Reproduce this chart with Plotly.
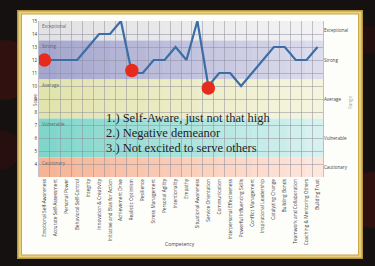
import plotly.graph_objects as go

categories = [
    "Emotional Self-Awareness", "Accurate Self-Assessment", "Personal Power",
    "Behavioral Self-Control", "Integrity", "Innovation & Creativity",
    "Initiative and Bias for Action", "Achievement Drive", "Realistic Optimism",
    "Resilience", "Stress Management", "Personal Agility", "Intentionality",
    "Empathy", "Situational Awareness", "Service Orientation", "Communication",
    "Interpersonal Effectiveness", "Powerful Influencing Skills",
    "Conflict Management", "Inspirational Leadership", "Catalyzing Change",
    "Building Bonds", "Teamwork and Collaboration", "Coaching & Mentoring Others",
    "Building Trust",
]
scores = [12, 12, 12, 12, 13, 14, 14, 15, 11, 11, 12, 12, 13, 12, 15, 10,
          11, 11, 10, 11, 12, 13, 13, 12, 12, 13]

highlight_idx = [0, 8, 15]
highlight_scores = [12, 11.2, 9.85]

band_names = ["Exceptional", "Strong", "Average", "Vulnerable", "Cautionary"]
band_low = [13.5, 10.5, 7.5, 4.5, 3]
band_high = [15, 13.5, 10.5, 7.5, 4.5]
band_mid = [14.25, 12, 9, 6, 3.75]
band_left_rgb = [(226, 226, 228), (164, 166, 206), (226, 228, 174), (128, 214, 202), (246, 180, 150)]
band_right_rgb = [(242, 242, 244), (220, 220, 236), (245, 245, 222), (214, 241, 239), (253, 230, 220)]

notes = ["1.) Self-Aware, just not that high", "2.) Negative demeanor",
         "3.) Not excited to serve others"]

W, H = 375, 266
ML, MR, MT, MB = 39, 52, 21, 89
PW, PH = W - ML - MR, H - MT - MB


def px(x):
    return (x - ML) / PW


def py(y):
    return 1 - (y - MT) / PH


fig = go.Figure()

fig.add_trace(go.Scatter(
    x=categories, y=scores, mode="lines",
    line=dict(color="#3b6ea6", width=2.2), hoverinfo="skip", showlegend=False))
fig.add_trace(go.Scatter(
    x=[categories[i] for i in highlight_idx], y=highlight_scores, mode="markers",
    marker=dict(color="#e62a1d", size=13.5, line=dict(width=0)), showlegend=False))
fig.add_trace(go.Scatter(
    x=[categories[0]], y=[band_mid[0]], yaxis="y2", mode="markers",
    marker=dict(opacity=0), showlegend=False, hoverinfo="skip"))

shapes = []
# background marble hints
for (cx, cy, r, col) in [(5, 70, 30, "rgba(100,16,12,0.35)"), (0, 150, 20, "rgba(80,12,10,0.3)"),
                         (372, 200, 28, "rgba(100,16,12,0.35)"), (368, 40, 14, "rgba(70,12,10,0.3)")]:
    shapes.append(dict(type="circle", xref="paper", yref="paper", layer="below",
                       x0=px(cx - r), x1=px(cx + r), y0=py(cy + r), y1=py(cy - r),
                       fillcolor=col, line=dict(width=0)))
# gold frame
shapes.append(dict(type="rect", xref="paper", yref="paper", layer="below",
                   x0=px(17), x1=px(363), y0=py(259), y1=py(10),
                   fillcolor="#b8953c", line=dict(width=0)))
shapes.append(dict(type="rect", xref="paper", yref="paper", layer="below",
                   x0=px(18.5), x1=px(361.5), y0=py(257.5), y1=py(11.5),
                   fillcolor="#e6d17f", line=dict(width=0)))
shapes.append(dict(type="rect", xref="paper", yref="paper", layer="below",
                   x0=px(21), x1=px(359), y0=py(255.5), y1=py(13.5),
                   fillcolor="#c9a74b", line=dict(width=0)))
shapes.append(dict(type="rect", xref="paper", yref="paper", layer="below",
                   x0=px(22), x1=px(358), y0=py(254.5), y1=py(14.5),
                   fillcolor="#fdfdf9", line=dict(width=0)))

# band gradients
N = 16
for lo, hi, cl, cr in zip(band_low, band_high, band_left_rgb, band_right_rgb):
    for k in range(N):
        t = k / (N - 1)
        c = tuple(round(a + (b - a) * t) for a, b in zip(cl, cr))
        shapes.append(dict(type="rect", xref="x domain", yref="y", layer="below",
                           x0=k / N, x1=min(1, (k + 1) / N + 0.002), y0=lo, y1=hi,
                           fillcolor="rgb(%d,%d,%d)" % c, line=dict(width=0)))

annotations = []
for name, hi in zip(band_names, band_high):
    annotations.append(dict(xref="x domain", yref="y", x=0.005, y=hi, text=name,
                            showarrow=False, xanchor="left", yanchor="top",
                            font=dict(size=4.5, color="#666", family="Open Sans")))
for i, note in enumerate(notes):
    annotations.append(dict(xref="paper", yref="paper", x=px(104), y=py(118 + 15 * i),
                            text=note, showarrow=False, xanchor="left", yanchor="middle",
                            font=dict(size=12.5, color="#1e1e2a", family="Liberation Serif")))
annotations.append(dict(xref="paper", yref="paper", x=px(30), y=py(100), text="Score",
                        textangle=-90, showarrow=False,
                        font=dict(size=4.5, color="#444", family="Open Sans")))
annotations.append(dict(xref="paper", yref="paper", x=px(180), y=py(249), text="Competency",
                        showarrow=False, font=dict(size=5, color="#444", family="Open Sans")))
annotations.append(dict(xref="paper", yref="paper", x=px(355), y=py(103), text="Range",
                        textangle=-90, showarrow=False,
                        font=dict(size=4.5, color="#aaa", family="Open Sans")))

fig.update_layout(
    width=W, height=H, margin=dict(l=ML, r=MR, t=MT, b=MB),
    paper_bgcolor="#151111", plot_bgcolor="rgba(0,0,0,0)",
    shapes=shapes, annotations=annotations, showlegend=False,
    xaxis=dict(type="category", tickangle=-90, tickson="boundaries", showgrid=True,
               gridcolor="rgba(140,140,155,0.5)", gridwidth=0.7, ticks="",
               tickfont=dict(size=4.8, color="#333", family="Open Sans"),
               showline=False, zeroline=False, range=[-0.5, len(categories) - 0.5]),
    yaxis=dict(range=[3, 15], showgrid=True,
               gridcolor="rgba(140,140,155,0.5)", gridwidth=0.7, ticks="",
               tickvals=list(range(4, 16)),
               tickfont=dict(size=4.5, color="#333", family="Open Sans"),
               zeroline=False, showline=True, linecolor="rgba(150,150,160,0.6)", mirror=True),
    yaxis2=dict(range=[3, 15], overlaying="y", side="right", tickvals=band_mid,
                ticktext=band_names, showgrid=False, zeroline=False, ticks="",
                tickfont=dict(size=4.5, color="#444", family="Open Sans")),
)

fig.write_html("out.html")
